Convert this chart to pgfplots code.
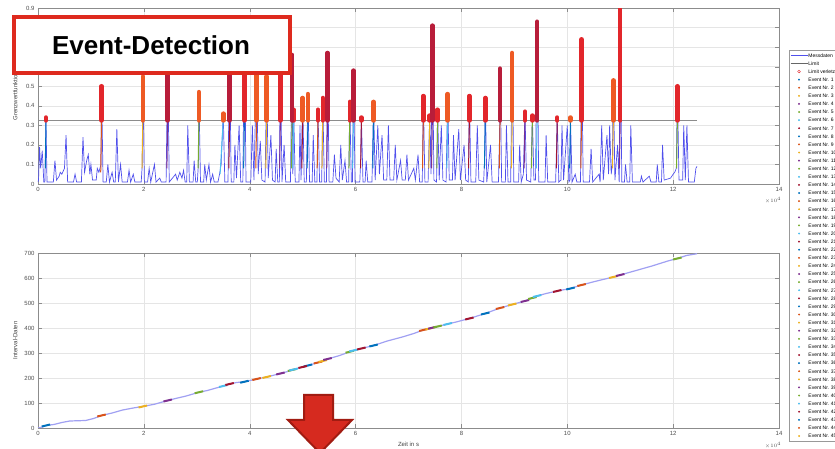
\documentclass[border=0pt]{standalone}
\usepackage{fontspec}
\setmainfont{Liberation Sans}
\usepackage{pgfplots}
\pgfplotsset{compat=1.18}
\definecolor{mblue}{HTML}{0072BD}
\definecolor{morange}{HTML}{D95319}
\definecolor{myellow}{HTML}{EDB120}
\definecolor{mpurple}{HTML}{7E2F8E}
\definecolor{mgreen}{HTML}{77AC30}
\definecolor{mcyan}{HTML}{4DBEEE}
\definecolor{mdred}{HTML}{A2142F}
\definecolor{mess}{HTML}{5050EC}
\definecolor{messlight}{HTML}{A0A0F2}
\definecolor{lv}{HTML}{E2262B}
\definecolor{lvo}{HTML}{EE5A24}
\definecolor{lvd}{HTML}{B81D3A}
\definecolor{boxred}{HTML}{DE2A1E}
\definecolor{arrowred}{HTML}{D62A1F}
\definecolor{arrowdark}{HTML}{A11C12}
\pgfplotsset{
  mlstyle/.style={
    scale only axis, width=741pt, xmin=0, xmax=14, xtick={0,2,...,14},
    grid=major, major grid style={black!10},
    axis line style={black!45}, tick style={black!45}, tick align=inside,
    major tick length=4pt,
    ticklabel style={font=\fontsize{6}{7}\selectfont, color=black!70},
    label style={font=\fontsize{6}{7}\selectfont, color=black!75},
    /pgf/number format/assume math mode=true,
    unbounded coords=jump,
  },
  ev/.style={only marks, mark=*, mark size=0.7pt},
}
\begin{document}
\begin{tikzpicture}
%================ TOP AXIS =================
\begin{axis}[mlstyle, at={(38pt,265pt)}, anchor=south west, height=176pt,
  ymin=0, ymax=0.9, ytick={0,0.1,...,0.9},
  yticklabel style={/pgf/number format/fixed, /pgf/number format/precision=1},
  ylabel={Grenzwertfunktion},
  ylabel style={at={(axis description cs:-0.023,0.5)}, anchor=south},
  legend style={at={(axis description cs:1.0135,0.761)}, anchor=north west,
    draw=black!40, fill=white, font=\fontsize{5}{6}\selectfont, row sep=0pt,
    inner sep=1pt, nodes={inner sep=0.6pt, text height=5.3pt, text depth=1.6pt}},
  legend cell align=left]
% Messdaten
\addplot[mess, line width=0.7pt, forget plot] coordinates {
(0,0.01)(0.01,0.02)(0.03,0.19)(0.05,0.08)(0.08,0.17)(0.11,0.01)
(0.13,0.01)(0.15,0.34)(0.17,0.01)(0.29,0.01)(0.32,0.12)(0.35,0.02)
(0.40,0.04)(0.42,0.06)(0.45,0.05)(0.50,0.08)(0.53,0.25)(0.56,0.01)
(0.67,0.01)(0.70,0.05)(0.73,0.01)(0.82,0.01)(0.85,0.24)(0.88,0.06)
(0.92,0.12)(0.95,0.15)(0.98,0.05)(1.00,0.10)(1.03,0.02)
(1.10,0.02)(1.12,0.08)(1.15,0.06)(1.19,0.10)(1.20,0.50)(1.23,0.01)
(1.29,0.01)(1.32,0.10)(1.35,0.01)(1.40,0.06)(1.43,0.01)
(1.46,0.01)(1.49,0.28)(1.52,0.01)(1.56,0.10)(1.59,0.01)
(1.69,0.01)(1.72,0.07)(1.75,0.01)(1.80,0.05)(1.83,0.01)
(1.95,0.01)(1.97,0.10)(1.98,0.55)(2.01,0.01)(2.07,0.01)(2.10,0.08)(2.13,0.01)
(2.20,0.10)(2.23,0.01)(2.30,0.03)(2.33,0.01)(2.42,0.01)(2.45,0.62)(2.48,0.01)
(2.60,0.05)(2.63,0.02)(2.68,0.06)(2.72,0.03)(2.75,0.07)(2.78,0.01)
(2.81,0.01)(2.83,0.30)(2.86,0.01)(2.93,0.01)(2.95,0.12)(2.98,0.01)
(3.01,0.01)(3.03,0.10)(3.04,0.47)(3.07,0.01)(3.13,0.01)(3.15,0.10)(3.18,0.02)
(3.23,0.10)(3.26,0.01)(3.30,0.05)(3.33,0.01)
(3.40,0.01)(3.43,0.05)(3.46,0.10)(3.50,0.36)(3.53,0.01)
(3.59,0.01)(3.62,0.72)(3.65,0.01)(3.70,0.01)(3.72,0.20)(3.75,0.03)
(3.80,0.30)(3.83,0.01)(3.87,0.01)(3.90,0.80)(3.93,0.01)
(4.02,0.01)(4.05,0.30)(4.08,0.02)(4.13,0.62)(4.16,0.05)(4.20,0.22)(4.23,0.02)
(4.29,0.01)(4.32,0.55)(4.35,0.03)(4.40,0.25)(4.43,0.02)
(4.48,0.01)(4.50,0.18)(4.53,0.01)(4.56,0.01)(4.58,0.63)(4.61,0.01)
(4.65,0.20)(4.68,0.01)(4.77,0.01)(4.80,0.66)(4.815,0.05)(4.83,0.38)(4.86,0.01)
(4.93,0.01)(4.95,0.30)(4.97,0.02)(5.00,0.44)(5.03,0.01)
(5.07,0.01)(5.10,0.46)(5.13,0.01)(5.18,0.01)(5.20,0.25)(5.23,0.01)
(5.27,0.01)(5.29,0.38)(5.32,0.01)(5.36,0.01)(5.38,0.44)(5.41,0.01)
(5.45,0.01)(5.47,0.67)(5.50,0.01)(5.57,0.01)(5.60,0.15)(5.63,0.03)
(5.69,0.01)(5.72,0.20)(5.75,0.02)(5.80,0.12)(5.83,0.01)
(5.87,0.01)(5.89,0.42)(5.92,0.01)(5.94,0.01)(5.96,0.58)(5.99,0.01)
(6.08,0.01)(6.10,0.15)(6.11,0.34)(6.14,0.01)(6.18,0.01)(6.20,0.12)(6.23,0.01)
(6.31,0.01)(6.34,0.42)(6.37,0.02)(6.42,0.30)(6.45,0.05)(6.50,0.25)(6.53,0.02)
(6.59,0.02)(6.62,0.30)(6.65,0.02)(6.72,0.02)(6.75,0.20)(6.78,0.02)
(6.85,0.12)(6.88,0.02)(6.94,0.02)(6.97,0.15)(7.00,0.02)
(7.10,0.08)(7.13,0.02)(7.18,0.15)(7.21,0.01)(7.26,0.01)(7.28,0.45)(7.31,0.01)
(7.37,0.01)(7.40,0.35)(7.425,0.05)(7.45,0.81)(7.48,0.02)
(7.53,0.01)(7.55,0.38)(7.58,0.02)(7.62,0.30)(7.65,0.02)
(7.71,0.01)(7.74,0.46)(7.77,0.02)(7.83,0.02)(7.85,0.25)(7.88,0.02)
(7.95,0.28)(7.98,0.02)(8.05,0.20)(8.08,0.02)(8.13,0.01)(8.15,0.45)(8.18,0.01)
(8.27,0.01)(8.30,0.30)(8.33,0.02)(8.42,0.01)(8.44,0.15)(8.45,0.44)(8.48,0.01)
(8.55,0.20)(8.58,0.01)(8.70,0.01)(8.72,0.25)(8.73,0.59)(8.76,0.01)
(8.83,0.01)(8.85,0.30)(8.88,0.01)(8.93,0.01)(8.96,0.67)(8.99,0.01)
(9.08,0.01)(9.10,0.20)(9.13,0.01)(9.17,0.05)(9.20,0.37)(9.23,0.02)
(9.31,0.01)(9.34,0.35)(9.37,0.02)(9.40,0.02)(9.43,0.83)(9.46,0.01)
(9.58,0.01)(9.60,0.25)(9.63,0.01)(9.78,0.01)(9.81,0.34)(9.84,0.01)
(9.88,0.02)(9.90,0.30)(9.93,0.02)(10.00,0.30)(10.03,0.01)
(10.05,0.02)(10.06,0.34)(10.09,0.01)(10.15,0.05)(10.18,0.01)
(10.25,0.01)(10.27,0.74)(10.30,0.01)(10.42,0.01)(10.45,0.18)(10.48,0.01)
(10.60,0.05)(10.62,0.01)(10.65,0.30)(10.68,0.02)(10.75,0.25)(10.78,0.05)
(10.80,0.30)(10.83,0.05)(10.85,0.10)(10.87,0.53)(10.90,0.02)
(10.95,0.20)(10.98,0.01)(11.00,0.90)(11.03,0.01)
(11.08,0.01)(11.10,0.10)(11.13,0.01)(11.18,0.01)(11.20,0.30)(11.23,0.01)
(11.38,0.01)(11.40,0.04)(11.43,0.01)(11.55,0.04)(11.58,0.01)
(11.68,0.01)(11.70,0.10)(11.73,0.01)(11.78,0.01)(11.80,0.20)(11.83,0.02)
(11.95,0.03)(12.00,0.05)(12.03,0.06)(12.06,0.08)(12.08,0.50)(12.11,0.02)
(12.18,0.02)(12.20,0.30)(12.23,0.02)(12.26,0.30)(12.29,0.01)
(12.40,0.01)(12.43,0.08)(12.45,0.09)};
% Limit
\addplot[black!45, line width=1.3pt, forget plot] coordinates {(0,0.325)(12.45,0.325)};
% coloured lower parts of events
\addplot[mblue, line width=1pt, forget plot] coordinates {(0.14,0.08)(0.15,0.325)(0.15,nan)(3.885,0.08)(3.90,0.325)(3.90,nan)(5.085,0.08)(5.10,0.325)(5.10,nan)(6.325,0.08)(6.34,0.325)(6.34,nan)(8.435,0.08)(8.45,0.325)(8.45,nan)(10.045,0.08)(10.06,0.325)};
\addplot[morange, line width=1pt, forget plot] coordinates {(1.185,0.06)(1.20,0.325)(1.20,nan)(4.115,0.08)(4.13,0.325)(4.13,nan)(5.275,0.08)(5.29,0.325)(5.29,nan)(7.265,0.08)(7.28,0.325)(7.28,nan)(8.715,0.08)(8.73,0.325)(8.73,nan)(10.255,0.08)(10.27,0.325)};
\addplot[myellow, line width=1pt, forget plot] coordinates {(1.965,0.08)(1.98,0.325)(1.98,nan)(4.305,0.08)(4.32,0.325)(4.32,nan)(5.365,0.08)(5.38,0.325)(5.38,nan)(7.385,0.08)(7.40,0.325)(7.40,nan)(8.945,0.08)(8.96,0.325)(8.96,nan)(10.855,0.08)(10.87,0.325)};
\addplot[mpurple, line width=1pt, forget plot] coordinates {(2.435,0.08)(2.45,0.325)(2.45,nan)(4.565,0.08)(4.58,0.325)(4.58,nan)(5.455,0.08)(5.47,0.325)(5.47,nan)(7.435,0.08)(7.45,0.325)(7.45,nan)(9.185,0.08)(9.20,0.325)(9.20,nan)(10.985,0.08)(11.00,0.325)};
\addplot[mgreen, line width=1pt, forget plot] coordinates {(3.025,0.08)(3.04,0.325)(3.04,nan)(4.785,0.08)(4.80,0.325)(4.80,nan)(5.875,0.08)(5.89,0.325)(5.89,nan)(7.535,0.08)(7.55,0.325)(7.55,nan)(9.325,0.08)(9.34,0.325)(9.34,nan)(12.065,0.08)(12.08,0.325)};
\addplot[mcyan, line width=1pt, forget plot] coordinates {(3.44,0.05)(3.50,0.325)(3.50,nan)(4.815,0.08)(4.83,0.325)(4.83,nan)(5.945,0.08)(5.96,0.325)(5.96,nan)(7.725,0.08)(7.74,0.325)(7.74,nan)(9.415,0.08)(9.43,0.325)};
\addplot[mdred, line width=1pt, forget plot] coordinates {(3.605,0.08)(3.62,0.325)(3.62,nan)(4.985,0.08)(5.00,0.325)(5.00,nan)(6.095,0.08)(6.11,0.325)(6.11,nan)(8.135,0.08)(8.15,0.325)(8.15,nan)(9.795,0.08)(9.81,0.325)};
% Limit verletzt columns
\addplot[lv, line width=4.5pt, line cap=round, forget plot] coordinates {
(0.15,0.325)(0.15,0.34)(0.15,nan)(1.20,0.325)(1.20,0.50)(1.20,nan)
(3.90,0.325)(3.90,0.80)(3.90,nan)(4.58,0.325)(4.58,0.63)(4.58,nan)
(4.83,0.325)(4.83,0.38)(4.83,nan)(5.29,0.325)(5.29,0.38)(5.29,nan)
(5.38,0.325)(5.38,0.44)(5.38,nan)(5.89,0.325)(5.89,0.42)(5.89,nan)
(6.11,0.325)(6.11,0.34)(6.11,nan)(7.28,0.325)(7.28,0.45)(7.28,nan)
(7.40,0.325)(7.40,0.35)(7.40,nan)(7.55,0.325)(7.55,0.38)(7.55,nan)
(8.15,0.325)(8.15,0.45)(8.15,nan)(8.45,0.325)(8.45,0.44)(8.45,nan)
(9.20,0.325)(9.20,0.37)(9.20,nan)(9.34,0.325)(9.34,0.35)(9.34,nan)
(9.81,0.325)(9.81,0.34)(9.81,nan)(10.27,0.325)(10.27,0.74)(10.27,nan)
(11.00,0.325)(11.00,0.90)(11.00,nan)(12.08,0.325)(12.08,0.50)};
\addplot[lvo, line width=4.5pt, line cap=round, forget plot] coordinates {
(1.98,0.325)(1.98,0.55)(1.98,nan)(3.04,0.325)(3.04,0.47)(3.04,nan)
(3.50,0.325)(3.50,0.36)(3.50,nan)(4.13,0.325)(4.13,0.62)(4.13,nan)
(4.32,0.325)(4.32,0.55)(4.32,nan)(5.00,0.325)(5.00,0.44)(5.00,nan)
(5.10,0.325)(5.10,0.46)(5.10,nan)(6.34,0.325)(6.34,0.42)(6.34,nan)
(7.74,0.325)(7.74,0.46)(7.74,nan)(8.96,0.325)(8.96,0.67)(8.96,nan)
(10.06,0.325)(10.06,0.34)(10.06,nan)(10.87,0.325)(10.87,0.53)};
\addplot[lvd, line width=4.5pt, line cap=round, forget plot] coordinates {
(2.45,0.325)(2.45,0.62)(2.45,nan)(3.62,0.325)(3.62,0.72)(3.62,nan)
(4.80,0.325)(4.80,0.66)(4.80,nan)(5.47,0.325)(5.47,0.67)(5.47,nan)
(5.96,0.325)(5.96,0.58)(5.96,nan)(7.45,0.325)(7.45,0.81)(7.45,nan)
(8.73,0.325)(8.73,0.59)(8.73,nan)(9.43,0.325)(9.43,0.83)};
% legend
\addlegendimage{line legend, color=mess, line width=0.6pt}\addlegendentry{Messdaten}
\addlegendimage{line legend, color=black!60, line width=0.6pt}\addlegendentry{Limit}
\addlegendimage{only marks, mark=o, mark size=1.4pt, color=lv}\addlegendentry{Limit verletzt}
\addlegendimage{ev,mblue}\addlegendentry{Event Nr. 1}
\addlegendimage{ev,morange}\addlegendentry{Event Nr. 2}
\addlegendimage{ev,myellow}\addlegendentry{Event Nr. 3}
\addlegendimage{ev,mpurple}\addlegendentry{Event Nr. 4}
\addlegendimage{ev,mgreen}\addlegendentry{Event Nr. 5}
\addlegendimage{ev,mcyan}\addlegendentry{Event Nr. 6}
\addlegendimage{ev,mdred}\addlegendentry{Event Nr. 7}
\addlegendimage{ev,mblue}\addlegendentry{Event Nr. 8}
\addlegendimage{ev,morange}\addlegendentry{Event Nr. 9}
\addlegendimage{ev,myellow}\addlegendentry{Event Nr. 10}
\addlegendimage{ev,mpurple}\addlegendentry{Event Nr. 11}
\addlegendimage{ev,mgreen}\addlegendentry{Event Nr. 12}
\addlegendimage{ev,mcyan}\addlegendentry{Event Nr. 13}
\addlegendimage{ev,mdred}\addlegendentry{Event Nr. 14}
\addlegendimage{ev,mblue}\addlegendentry{Event Nr. 15}
\addlegendimage{ev,morange}\addlegendentry{Event Nr. 16}
\addlegendimage{ev,myellow}\addlegendentry{Event Nr. 17}
\addlegendimage{ev,mpurple}\addlegendentry{Event Nr. 18}
\addlegendimage{ev,mgreen}\addlegendentry{Event Nr. 19}
\addlegendimage{ev,mcyan}\addlegendentry{Event Nr. 20}
\addlegendimage{ev,mdred}\addlegendentry{Event Nr. 21}
\addlegendimage{ev,mblue}\addlegendentry{Event Nr. 22}
\addlegendimage{ev,morange}\addlegendentry{Event Nr. 23}
\addlegendimage{ev,myellow}\addlegendentry{Event Nr. 24}
\addlegendimage{ev,mpurple}\addlegendentry{Event Nr. 25}
\addlegendimage{ev,mgreen}\addlegendentry{Event Nr. 26}
\addlegendimage{ev,mcyan}\addlegendentry{Event Nr. 27}
\addlegendimage{ev,mdred}\addlegendentry{Event Nr. 28}
\addlegendimage{ev,mblue}\addlegendentry{Event Nr. 29}
\addlegendimage{ev,morange}\addlegendentry{Event Nr. 30}
\addlegendimage{ev,myellow}\addlegendentry{Event Nr. 31}
\addlegendimage{ev,mpurple}\addlegendentry{Event Nr. 32}
\addlegendimage{ev,mgreen}\addlegendentry{Event Nr. 33}
\addlegendimage{ev,mcyan}\addlegendentry{Event Nr. 34}
\addlegendimage{ev,mdred}\addlegendentry{Event Nr. 35}
\addlegendimage{ev,mblue}\addlegendentry{Event Nr. 36}
\addlegendimage{ev,morange}\addlegendentry{Event Nr. 37}
\addlegendimage{ev,myellow}\addlegendentry{Event Nr. 38}
\addlegendimage{ev,mpurple}\addlegendentry{Event Nr. 39}
\addlegendimage{ev,mgreen}\addlegendentry{Event Nr. 40}
\addlegendimage{ev,mcyan}\addlegendentry{Event Nr. 41}
\addlegendimage{ev,mdred}\addlegendentry{Event Nr. 42}
\addlegendimage{ev,mblue}\addlegendentry{Event Nr. 43}
\addlegendimage{ev,morange}\addlegendentry{Event Nr. 44}
\addlegendimage{ev,myellow}\addlegendentry{Event Nr. 45}
\end{axis}
%================ BOTTOM AXIS =================
\begin{axis}[mlstyle, at={(38pt,21pt)}, anchor=south west, height=175pt,
  ymin=0, ymax=700, ytick={0,100,...,700},
  ylabel={Interval-Daten},
  ylabel style={at={(axis description cs:-0.023,0.5)}, anchor=south},
  xlabel={Zeit in s},
  xlabel style={at={(axis description cs:0.5,-0.06)}, anchor=north}]
\addplot[messlight, line width=1.2pt] coordinates {
(0,0)(0.1,5)(0.15,10)(0.3,14)(0.45,22)(0.6,28)(0.75,29)(0.9,30)(1.05,38)(1.2,50)
(1.4,60)(1.6,72)(1.8,80)(2.0,87)(2.2,95)(2.45,110)(2.6,118)(2.8,128)(3.04,143)
(3.2,150)(3.5,168)(3.62,176)(3.75,182)(3.9,185)(4.13,196)(4.32,204)(4.58,218)
(4.7,225)(4.83,234)(5.0,244)(5.1,250)(5.29,262)(5.38,268)(5.47,276)(5.7,290)
(5.89,305)(5.96,310)(6.11,318)(6.34,330)(6.6,348)(6.9,365)(7.1,378)(7.28,392)
(7.4,398)(7.45,401)(7.55,406)(7.74,416)(7.9,424)(8.15,438)(8.45,458)(8.73,480)
(8.96,494)(9.2,508)(9.34,520)(9.43,528)(9.6,538)(9.81,548)(10.06,558)(10.27,572)
(10.5,585)(10.87,604)(11.0,612)(11.3,630)(11.6,648)(11.9,668)(12.08,678)
(12.25,690)(12.45,697)};
\addplot[mblue, line width=2pt] coordinates {(0.07,6)(0.23,14)(0.23,nan)(3.82,181)(3.98,189)(3.98,nan)(5.02,246)(5.18,254)(5.18,nan)(6.26,326)(6.42,334)(6.42,nan)(8.37,454)(8.53,462)(8.53,nan)(9.98,554)(10.14,562)};
\addplot[morange, line width=2pt] coordinates {(1.12,46)(1.28,54)(1.28,nan)(4.05,192)(4.21,200)(4.21,nan)(5.21,258)(5.37,266)(5.37,nan)(7.20,388)(7.36,396)(7.36,nan)(8.65,476)(8.81,484)(8.81,nan)(10.19,568)(10.35,576)};
\addplot[myellow, line width=2pt] coordinates {(1.90,82)(2.06,90)(2.06,nan)(4.24,200)(4.40,208)(4.40,nan)(5.30,264)(5.46,272)(5.46,nan)(7.32,394)(7.48,402)(7.48,nan)(8.88,490)(9.04,498)(9.04,nan)(10.79,600)(10.95,608)};
\addplot[mpurple, line width=2pt] coordinates {(2.37,106)(2.53,114)(2.53,nan)(4.50,214)(4.66,222)(4.66,nan)(5.39,272)(5.55,280)(5.55,nan)(7.37,397)(7.53,405)(7.53,nan)(9.12,504)(9.28,512)(9.28,nan)(10.92,608)(11.08,616)};
\addplot[mgreen, line width=2pt] coordinates {(2.96,139)(3.12,147)(3.12,nan)(4.72,228)(4.88,236)(4.88,nan)(5.81,301)(5.97,309)(5.97,nan)(7.47,402)(7.63,410)(7.63,nan)(9.26,516)(9.42,524)(9.42,nan)(12.00,674)(12.16,682)};
\addplot[mcyan, line width=2pt] coordinates {(3.42,164)(3.58,172)(3.58,nan)(4.75,230)(4.91,238)(4.91,nan)(5.88,306)(6.04,314)(6.04,nan)(7.66,412)(7.82,420)(7.82,nan)(9.35,524)(9.51,532)};
\addplot[mdred, line width=2pt] coordinates {(3.54,172)(3.70,180)(3.70,nan)(4.92,240)(5.08,248)(5.08,nan)(6.03,314)(6.19,322)(6.19,nan)(8.07,434)(8.23,442)(8.23,nan)(9.73,544)(9.89,552)};
\end{axis}
% x10^4 labels
\node[font=\fontsize{5}{6}\selectfont, text=black!70] at (773pt,249pt) {$\times10^{4}$};
\node[font=\fontsize{5}{6}\selectfont, text=black!70] at (773pt,4pt) {$\times10^{4}$};
% Event-Detection box
\draw[boxred, line width=4pt, fill=white] (14pt,432pt) rectangle (290pt,376pt);
\node[font=\fontsize{26}{30}\selectfont\bfseries] at (151pt,404pt) {Event-Detection};
% arrow
\draw[arrowdark, line width=2pt, fill=arrowred, line join=miter]
  (304pt,54pt) -- (333pt,54pt) -- (333pt,29pt) -- (352pt,29pt) -- (320pt,-4pt)
  -- (288pt,29pt) -- (304pt,29pt) -- cycle;
\pgfresetboundingbox
\path[use as bounding box] (0pt,0pt) rectangle (835pt,449pt);
\end{tikzpicture}
\end{document}
